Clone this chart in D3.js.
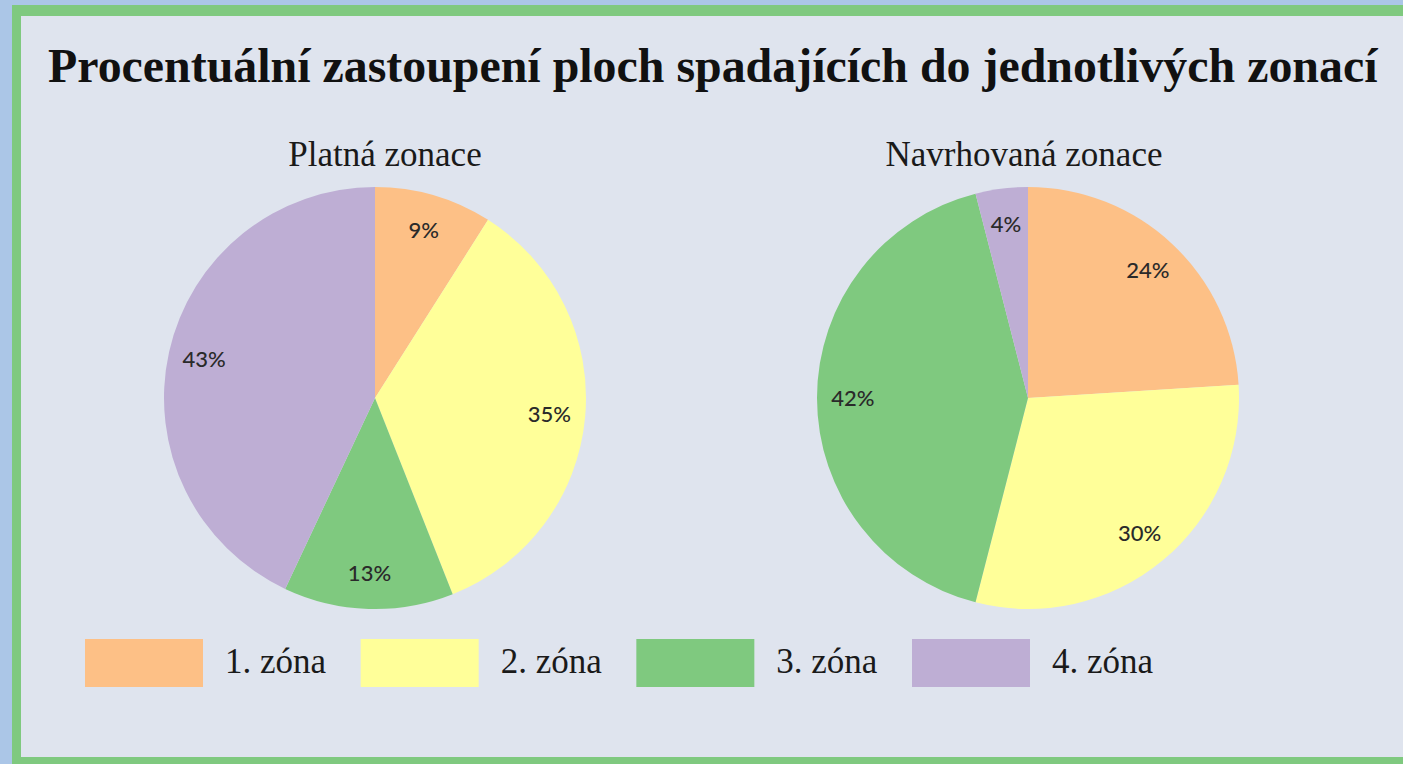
<!DOCTYPE html>
<html>
<head>
<meta charset="utf-8">
<script src="https://cdn.jsdelivr.net/npm/d3@7"></script>
<style>
  html, body { margin: 0; padding: 0; background: #dfe4ee; overflow: hidden; }
  svg { display: block; }
</style>
</head>
<body>
<div class="zone-chart"></div>
<script>
// data
const zones = ["1. zóna", "2. zóna", "3. zóna", "4. zóna"]
const charts = ["Platná zonace", "Navrhovaná zonace"]
const platna = [9, 35, 13, 43]
const navrhovana = [24, 30, 42, 4]
const title = "Procentuální zastoupení ploch spadajících do jednotlivých zonací"

const width = 1403
const height = 764

const svg = d3.select(".zone-chart").append("svg")
    .attr("width", width)
    .attr("height", height)
    .attr("viewBox", [0, 0, width, height])

// Frame: blue strip, green border, pale panel
svg.append("rect")
    .attr("width", width).attr("height", height)
    .attr("fill", "#abc6e7")
svg.append("rect")
    .attr("x", 12).attr("y", 5)
    .attr("width", 3000).attr("height", height - 5)
    .attr("fill", "#7fc97f")
svg.append("rect")
    .attr("x", 21).attr("y", 16)
    .attr("width", 3000).attr("height", 741)
    .attr("fill", "#dfe4ee")

// Colour scale (ColorBrewer Accent)
const color = d3.scaleOrdinal()
    .domain(zones)
    .range(["#fdc086", "#ffff99", "#7fc97f", "#beaed4"])

// Title
const titleText = svg.append("text")
    .attr("x", 48)
    .attr("y", 82)
    .attr("font-family", "'Liberation Serif', 'Times New Roman', serif")
    .attr("font-weight", "bold")
    .attr("font-size", 46)
    .attr("fill", "#111")
    .text(title)
// fit the title to its width in the picture
const tw = titleText.node().getComputedTextLength()
titleText.attr("font-size", 46 * 1330 / tw)

// Pie positions
const cx = d3.scalePoint().domain(charts).range([375, 1028])
const cy = 398
const r = 211

const pie = d3.pie().sort(null).value(d => d.value)
const arc = d3.arc().innerRadius(0).outerRadius(r)
const labelArc = d3.arc().innerRadius(r * 0.83).outerRadius(r * 0.83)

const series = [platna, navrhovana]

charts.forEach((name, i) => {
    const data = zones.map((z, j) => ({ zone: z, value: series[i][j] }))
    const g = svg.append("g")
        .attr("transform", `translate(${cx(name)},${cy})`)

    g.selectAll("path")
        .data(pie(data))
        .join("path")
        .attr("d", arc)
        .attr("fill", d => color(d.data.zone))

    g.selectAll("text.lbl")
        .data(pie(data))
        .join("text")
        .attr("class", "lbl")
        .attr("transform", d => `translate(${labelArc.centroid(d)})`)
        .attr("text-anchor", "middle")
        .attr("dy", "0.35em")
        .attr("font-family", "Lato, 'Open Sans', sans-serif")
        .attr("font-size", 22)
        .attr("font-weight", 500)
        .attr("fill", "#2a2a2a")
        .text(d => d.data.value + "%")

    // chart subtitle
    svg.append("text")
        .attr("x", cx(name) + (i === 0 ? 10 : -4))
        .attr("y", 166)
        .attr("text-anchor", "middle")
        .attr("font-family", "'Liberation Serif', 'Times New Roman', serif")
        .attr("font-size", 35)
        .attr("fill", "#1a1a1a")
        .text(name)
})

// Legend
const lx = d3.scalePoint().domain(zones).range([85, 912])
const legend = svg.append("g")
    .selectAll("g")
    .data(zones)
    .join("g")
    .attr("transform", d => `translate(${lx(d)},639)`)

legend.append("rect")
    .attr("width", 118)
    .attr("height", 48)
    .attr("fill", d => color(d))

legend.append("text")
    .attr("x", 140)
    .attr("y", 34)
    .attr("font-family", "'Liberation Serif', 'Times New Roman', serif")
    .attr("font-size", 35)
    .attr("fill", "#1a1a1a")
    .text(d => d)
</script>
</body>
</html>
